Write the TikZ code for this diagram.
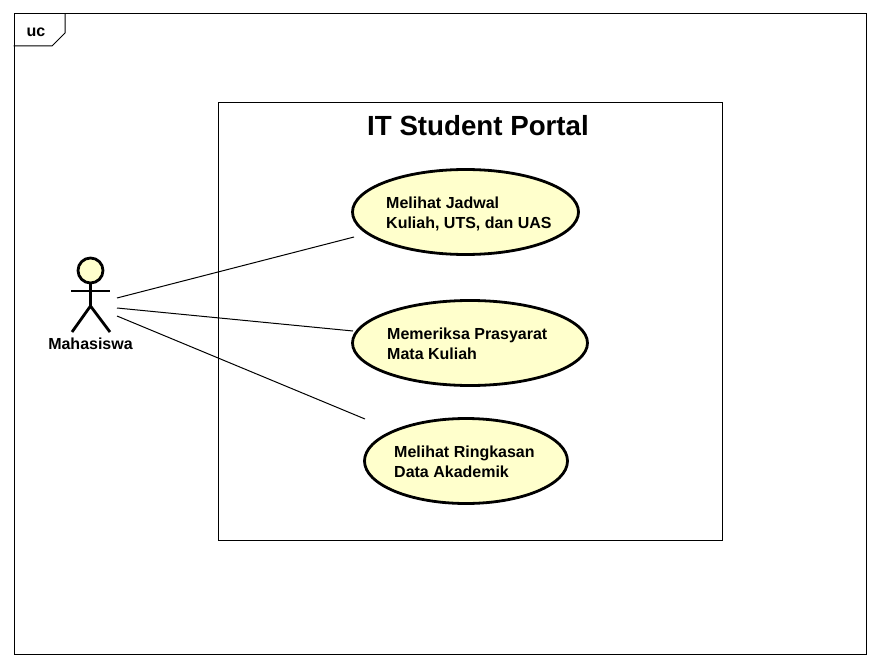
\documentclass[tikz,border=0pt]{standalone}
\usepackage{fontspec}
\setmainfont{Liberation Sans}
\usetikzlibrary{shapes.geometric}
\definecolor{ucfill}{RGB}{255,255,204}
\tikzset{
  frameline/.style={draw=black,line width=1pt},
  usecase/.style={ellipse,draw=black,fill=ucfill,line width=2.8pt,inner sep=0pt},
  uctext/.style={inner sep=0pt,align=left,anchor=north west,font=\fontsize{16}{20}\selectfont\bfseries},
  actorline/.style={draw=black,line width=2.8pt},
  assoc/.style={draw=black,line width=1pt}
}
\begin{document}
\begin{tikzpicture}[x=1pt,y=-1pt]
\useasboundingbox (0,0) rectangle (880,666);
\fill[white] (0,0) rectangle (880,666);
\node[frameline,minimum width=852pt,minimum height=640pt,inner sep=0pt,anchor=north west] (frame) at (13.5,13.5) {};
\draw[frameline] (13.5,46) -- (52,46) -- (65,33) -- (65,13.5);
\node[inner sep=0pt,font=\fontsize{16}{20}\selectfont\bfseries] (uc) at (36,32) {uc};
\node[frameline,minimum width=504pt,minimum height=437pt,inner sep=0pt,anchor=north west] (system) at (217.5,102.5) {};
\node[inner sep=0pt,font=\fontsize{27.7}{30}\selectfont\bfseries] (title) at (478,125.5) {IT Student Portal};
\node[usecase,minimum width=226pt,minimum height=85pt] (uc1) at (465.5,212) {};
\node[usecase,minimum width=235pt,minimum height=85pt] (uc2) at (470,343) {};
\node[usecase,minimum width=203pt,minimum height=85pt] (uc3) at (466,461) {};
\node[uctext] (t1) at (386,196.5) {Melihat Jadwal\\Kuliah, UTS, dan UAS};
\node[uctext] (t2) at (387,327.5) {Memeriksa Prasyarat\\Mata Kuliah};
\node[uctext] (t3) at (394,445.5) {Melihat Ringkasan\\Data Akademik};
% actor
\node[circle,draw=black,fill=ucfill,line width=2.8pt,minimum size=25pt,inner sep=0pt] (head) at (90.5,270.5) {};
\coordinate (hip) at (90.5,306);
\coordinate (armL) at (71,291);
\coordinate (armR) at (110,291);
\coordinate (legL) at (72,332);
\coordinate (legR) at (110,332);
\draw[actorline] (head.south) -- (hip);
\draw[actorline] (armL) -- (armR);
\draw[actorline] (legL) -- (hip) -- (legR);
\node[inner sep=0pt,font=\fontsize{16}{20}\selectfont\bfseries] (actor) at (90.5,344) {Mahasiswa};
% associations
\coordinate (a1) at (117,298);
\coordinate (a2) at (117,308);
\coordinate (a3) at (117,316);
\coordinate (e1) at (354,237);
\coordinate (e2) at (353,331);
\coordinate (e3) at (365,419);
\draw[assoc] (a1) -- (e1);
\draw[assoc] (a2) -- (e2);
\draw[assoc] (a3) -- (e3);
\end{tikzpicture}
\end{document}
